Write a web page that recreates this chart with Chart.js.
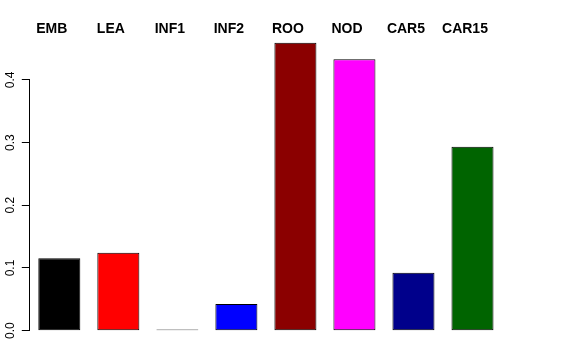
<!DOCTYPE html>
<html>
<head>
<meta charset="utf-8">
<script src="https://cdn.jsdelivr.net/npm/chart.js@4"></script>
<style>
  body { margin: 0; background: #fff; }
  #wrap { width: 576px; height: 360px; }
</style>
</head>
<body>
<div id="wrap"><canvas id="barChart" width="576" height="360"></canvas></div>
<script>
// data
const categories = ['EMB', 'LEA', 'INF1', 'INF2', 'ROO', 'NOD', 'CAR5', 'CAR15'];
const values = [0.1155, 0.1244, 0.002, 0.0426, 0.4593, 0.4329, 0.0925, 0.2935];
const barColors = ['#000000', '#ff0000', '#bebebe', '#0000ff', '#8b0000', '#ff00ff', '#00008b', '#006400'];
const yTicks = [0, 0.1, 0.2, 0.3, 0.4];

// R style y axis line: only from the first to the last tick
const axisLine = {
  id: 'axisLine',
  afterDraw(chart) {
    const y = chart.scales.y;
    const x = Math.round(chart.chartArea.left) - 0.5;
    const c = chart.ctx;
    c.save();
    c.strokeStyle = '#000';
    c.lineWidth = 1;
    c.beginPath();
    c.moveTo(x, y.getPixelForValue(yTicks[0]));
    c.lineTo(x, y.getPixelForValue(yTicks[yTicks.length - 1]));
    c.stroke();
    c.restore();
  }
};

const ctx = document.getElementById('barChart').getContext('2d');

const barChart = new Chart(ctx, {
  type: 'bar',
  data: {
    labels: categories,
    datasets: [{
      data: values,
      backgroundColor: barColors,
      borderColor: '#000',
      borderWidth: 1,
      borderSkipped: false,
      barPercentage: 0.712,
      categoryPercentage: 1
    }]
  },
  options: {
    responsive: false,
    animation: false,
    layout: { padding: { left: 2.4, right: 74, top: 20.6, bottom: 17.8 } },
    plugins: {
      legend: { display: false },
      tooltip: { enabled: false }
    },
    scales: {
      x: {
        position: 'top',
        grid: { display: false, drawTicks: false },
        border: { display: false },
        ticks: {
          color: '#000',
          font: { family: 'Liberation Sans', size: 14, weight: 'bold' },
          padding: 0.3,
          labelOffset: -7.5,
          maxRotation: 0
        }
      },
      y: {
        min: -0.0184,
        max: 0.4668,
        afterBuildTicks: (axis) => { axis.ticks = yTicks.map(v => ({ value: v })); },
        grid: { drawOnChartArea: false, drawTicks: true, tickLength: 8, color: '#000' },
        border: { display: false },
        ticks: {
          color: '#000',
          font: { family: 'Liberation Sans', size: 12 },
          minRotation: 90,
          maxRotation: 90,
          crossAlign: 'center',
          padding: 2.5,
          callback: (v) => Number(v).toFixed(1)
        }
      }
    }
  },
  plugins: [axisLine]
});
</script>
</body>
</html>
